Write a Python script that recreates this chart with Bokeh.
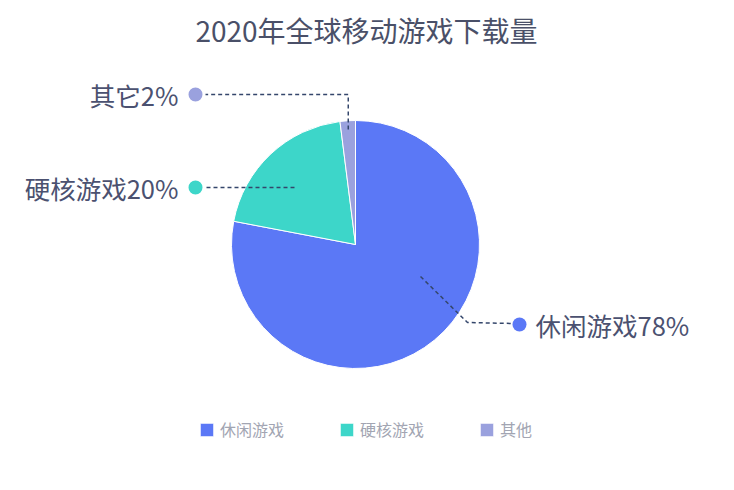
import numpy as np
from bokeh.plotting import figure
from bokeh.models import Range1d, ColumnDataSource, Legend, LegendItem
from bokeh.core.properties import value
from bokeh.embed import file_html
from bokeh.resources import INLINE

# ---- data ----
title_text = "2020年全球移动游戏下载量"
categories = ["休闲游戏", "硬核游戏", "其他"]
label_names = ["休闲游戏", "硬核游戏", "其它"]
shares = [78, 20, 2]
colors = ["#5b78f6", "#3dd6c9", "#9aa1de"]

FONT = "Noto Sans CJK SC"
W, H = 718, 474

p = figure(width=W, height=H, output_backend="svg", toolbar_location=None,
           x_range=Range1d(0, W), y_range=Range1d(490 - H, 490),
           min_border=0, outline_line_color=None)
p.axis.visible = False
p.grid.visible = False
p.background_fill_color = "white"
p.border_fill_color = "white"

# page coords helper: data y = 490 - page y
def py(y):
    return 490 - y

cx, cy, R = 355, py(244), 124

vals = np.array(shares, dtype=float)
frac = vals / vals.sum()
cum = np.concatenate([[0], np.cumsum(frac)])
start = np.pi / 2 - 2 * np.pi * cum[1:]
end = np.pi / 2 - 2 * np.pi * cum[:-1]

src = ColumnDataSource(dict(cat=categories, start=start, end=end, color=colors))
wr = p.wedge(x=cx, y=cy, radius=R, start_angle="start", end_angle="end",
             direction="anticlock", fill_color="color", line_color="white",
             line_width=1, source=src)

# title
p.text(x=[366], y=[py(29)], text=[title_text], text_font=value(FONT),
       text_font_size="28px", text_color="#4a5068", text_align="center",
       text_baseline="middle")

# leader lines (layout)
lead_col = "#34466b"
mid = (start + end) / 2
# 其它
ax = cx + R * 0.93 * np.cos(mid[2]); ay = cy + R * 0.93 * np.sin(mid[2])
p.line([ax, ax, 205], [ay, py(94), py(94)], line_color=lead_col,
       line_dash="4 3", line_width=1.5)
# 硬核
p.line([294, 205], [py(187), py(187)], line_color=lead_col,
       line_dash="4 3", line_width=1.5)
# 休闲
p.line([420, 467, 512], [py(276), py(322), py(323)], line_color=lead_col,
       line_dash="4 3", line_width=1.5)

dot_x = [519, 195, 195]
dot_y = [py(324), py(187), py(94)]
p.scatter(dot_x, dot_y, size=14, fill_color=colors, line_color=None)

lab_text = [f"{n}{s}%" for n, s in zip(label_names, shares)]
p.text(x=[535], y=[py(324)], text=[lab_text[0]], text_font=value(FONT),
       text_font_size="25.5px", text_color="#4b5170", text_align="left",
       text_baseline="middle")
p.text(x=[178, 178], y=[py(187), py(94)], text=[lab_text[1], lab_text[2]],
       text_font=value(FONT), text_font_size="25.5px", text_color="#4b5170",
       text_align="right", text_baseline="middle")

items = [LegendItem(label=c, renderers=[wr], index=i) for i, c in enumerate(categories)]
legend = Legend(items=items, orientation="horizontal", location=(198, 33),
                glyph_width=17, glyph_height=17, label_standoff=5, spacing=54,
                padding=0, margin=0, border_line_color=None,
                background_fill_alpha=0, label_text_font=FONT,
                label_text_font_size="16px", label_text_color="#a2a5b2",
                label_height=17)
p.add_layout(legend, "center")

open("out.html", "w").write(file_html(p, INLINE))
